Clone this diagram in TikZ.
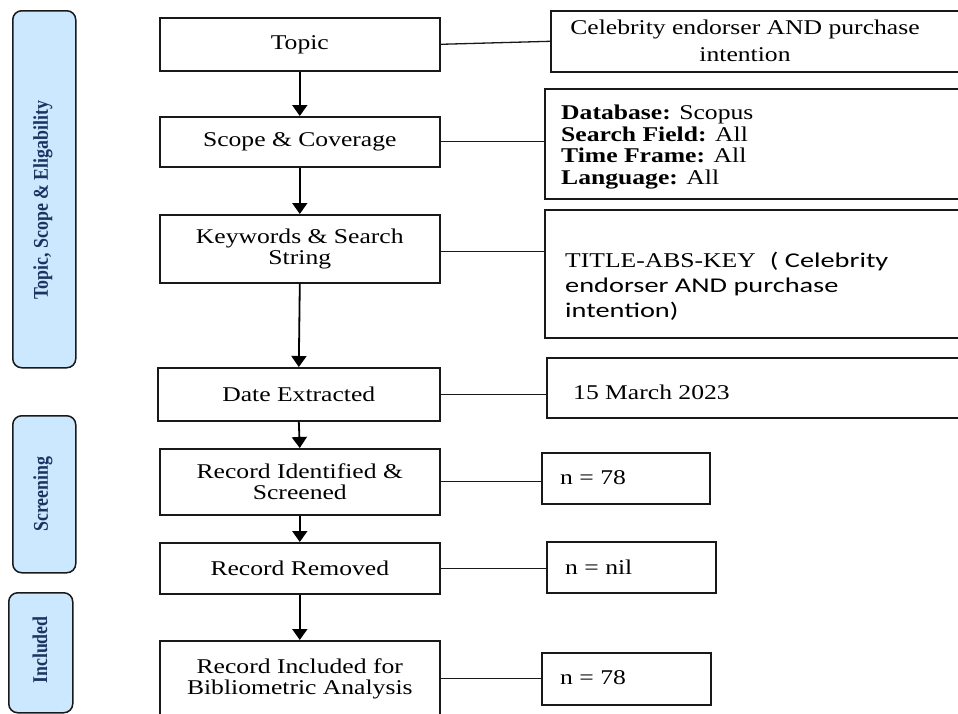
\documentclass[tikz,border=0pt]{standalone}
\usepackage{fontspec}
\setmainfont{Liberation Serif}
\newfontfamily\ser[FakeStretch=1.22]{Liberation Serif}
\newfontfamily\calb[FakeStretch=1.35]{Carlito}
\newfontfamily\sidef[FakeStretch=0.85]{Liberation Serif}
\usetikzlibrary{arrows.meta}
\definecolor{sidefill}{RGB}{204,232,255}
\definecolor{sidetext}{RGB}{28,50,96}
\definecolor{boxline}{RGB}{25,25,25}
\tikzset{
 box/.style={draw=boxline, line width=1.6pt, rectangle, inner sep=0pt, anchor=north west},
 mainbox/.style={box, minimum width=280pt, align=center, font=\ser\fontsize{21}{21.5}\selectfont},
 sidebox/.style={draw=boxline, fill=sidefill, line width=1.5pt, rounded corners=9pt, rectangle, anchor=north west, inner sep=0pt},
 sidelabel/.style={rotate=90, inner sep=0pt, font=\sidef\bfseries\fontsize{21}{22}\selectfont, text=sidetext},
 rtext/.style={anchor=west, align=left, inner sep=0pt, font=\ser\fontsize{21}{21.5}\selectfont},
 flow/.style={line width=1.8pt, draw=black, -{Triangle[width=15pt,length=11pt]}},
 link/.style={line width=1.3pt, draw=boxline},
}
\begin{document}
\begin{tikzpicture}[x=1pt,y=1pt]
\useasboundingbox (0,0) rectangle (958,-713);
% sidebars
\node[sidebox, minimum width=63pt, minimum height=357pt] (side1) at (12,-10) {};
\node[sidebox, minimum width=63pt, minimum height=157pt] (side2) at (12,-415) {};
\node[sidebox, minimum width=64pt, minimum height=120pt] (side3) at (8,-592) {};
\node[sidelabel] (side1t) at (43,-200) {Topic, Scope \& Eligability};
\node[sidelabel] (side2t) at (43,-494) {Screening};
\node[sidelabel] (side3t) at (40,-650) {Included};
% main column
\node[mainbox, minimum height=53pt] (topic) at (159,-17) {Topic};
\node[mainbox, minimum height=50pt] (scope) at (159,-116) {Scope \& Coverage};
\node[mainbox, minimum height=68pt] (kw) at (159,-214) {Keywords \& Search\\String};
\node[mainbox, minimum width=282pt, minimum height=53pt] (date) at (157,-367) {Date Extracted};
\node[mainbox, minimum height=66pt] (rid) at (159,-448) {Record Identified \&\\Screened};
\node[mainbox, minimum height=51pt] (rrem) at (159,-542) {Record Removed};
\node[mainbox, minimum height=76pt] (rinc) at (159,-640) {Record Included for\\Bibliometric Analysis};
% right column boxes
\node[box, minimum width=420pt, minimum height=61pt] (celeb) at (550,-10) {};
\node[box, minimum width=426pt, minimum height=110pt] (db) at (544,-88) {};
\node[box, minimum width=426pt, minimum height=128pt] (title) at (544,-209) {};
\node[box, minimum width=424pt, minimum height=60pt] (mar) at (546,-357) {};
\node[box, minimum width=168pt, minimum height=51pt] (n1) at (541,-452) {};
\node[box, minimum width=169pt, minimum height=51pt] (n2) at (546,-541) {};
\node[box, minimum width=169pt, minimum height=52pt] (n3) at (541,-652) {};
% right column texts
\node[inner sep=0pt, align=center, font=\ser\fontsize{21}{26.5}\selectfont] (celebt) at (745,-41) {Celebrity endorser AND purchase\\intention};
\node[rtext] (dbt) at (561,-147) {{\bfseries Database:} Scopus\\{\bfseries Search Field:} All\\{\bfseries Time Frame:} All\\{\bfseries Language:} All};
\node[rtext, font=\ser\fontsize{21}{25}\selectfont] (titlet) at (565,-286) {TITLE-ABS-KEY\hspace{14pt}{\calb( Celebrity}\\{\calb endorser AND purchase}\\{\calb intention)}};
\node[rtext] (mart) at (573,-392) {15 March 2023};
\node[rtext] (n1t) at (560,-478) {n = 78};
\node[rtext] (n2t) at (565,-567) {n = nil};
\node[rtext] (n3t) at (560,-678) {n = 78};
% flow arrows
\draw[flow] (topic.south) -- (scope.north);
\draw[flow] (scope.south) -- (kw.north);
\draw[flow] (kw.south) -- (date.north);
\draw[flow] (date.south) -- (rid.north);
\draw[flow] (rid.south) -- (rrem.north);
\draw[flow] (rrem.south) -- (rinc.north);
% side links
\draw[link] (topic.east) -- (celeb.west);
\draw[link] (scope.east) -- (scope.east -| db.west);
\draw[link] ([yshift=-3pt]kw.east) -- ([yshift=-3pt]kw.east -| title.west);
\draw[link] (date.east) -- (date.east -| mar.west);
\draw[link] (rid.east) -- (rid.east -| n1.west);
\draw[link] (rrem.east) -- (rrem.east -| n2.west);
\draw[link] (rinc.east) -- (rinc.east -| n3.west);
\end{tikzpicture}
\end{document}
